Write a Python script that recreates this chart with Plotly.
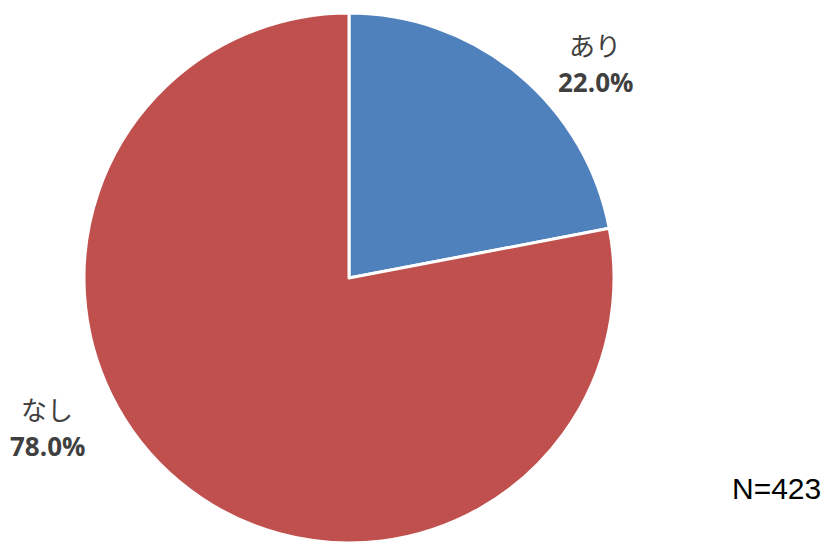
import plotly.graph_objects as go

# Survey answer split (percent of respondents)
categories = ["あり", "なし"]
shares = [22.0, 78.0]
colors = ["#4F81BD", "#C0504D"]
sample_size = 423

W, H = 826, 543

fig = go.Figure(
    go.Pie(
        labels=categories,
        values=shares,
        sort=False,
        direction="clockwise",
        rotation=0,
        textinfo="none",
        hoverinfo="label+percent",
        marker=dict(colors=colors, line=dict(color="white", width=3)),
        domain=dict(x=[84 / W, 614 / W], y=[0, 530 / H]),
        showlegend=False,
    )
)

# Outside labels: category name over its percentage
label_pos = {"あり": (595, 44, 82), "なし": (47, 408, 446)}
annotations = []
for cat, val in zip(categories, shares):
    x, y_name, y_pct = label_pos[cat]
    annotations.append(dict(
        x=x / W, y=1 - y_name / H, xref="paper", yref="paper",
        text=cat, showarrow=False, xanchor="center", yanchor="middle",
        font=dict(family="Noto Sans CJK JP", size=26, color="#404040"),
    ))
    annotations.append(dict(
        x=x / W, y=1 - y_pct / H, xref="paper", yref="paper",
        text=f"<b>{val:.1f}%</b>", showarrow=False, xanchor="center", yanchor="middle",
        font=dict(family="Open Sans", size=26, color="#404040"),
    ))

annotations.append(dict(
    x=776 / W, y=1 - 488 / H, xref="paper", yref="paper",
    text=f"N={sample_size}", showarrow=False, xanchor="center", yanchor="middle",
    font=dict(family="Liberation Sans", size=30, color="#000000"),
))

fig.update_layout(
    width=W, height=H,
    margin=dict(l=0, r=0, t=0, b=0),
    paper_bgcolor="white",
    plot_bgcolor="white",
    annotations=annotations,
)

fig.write_html("out.html")
